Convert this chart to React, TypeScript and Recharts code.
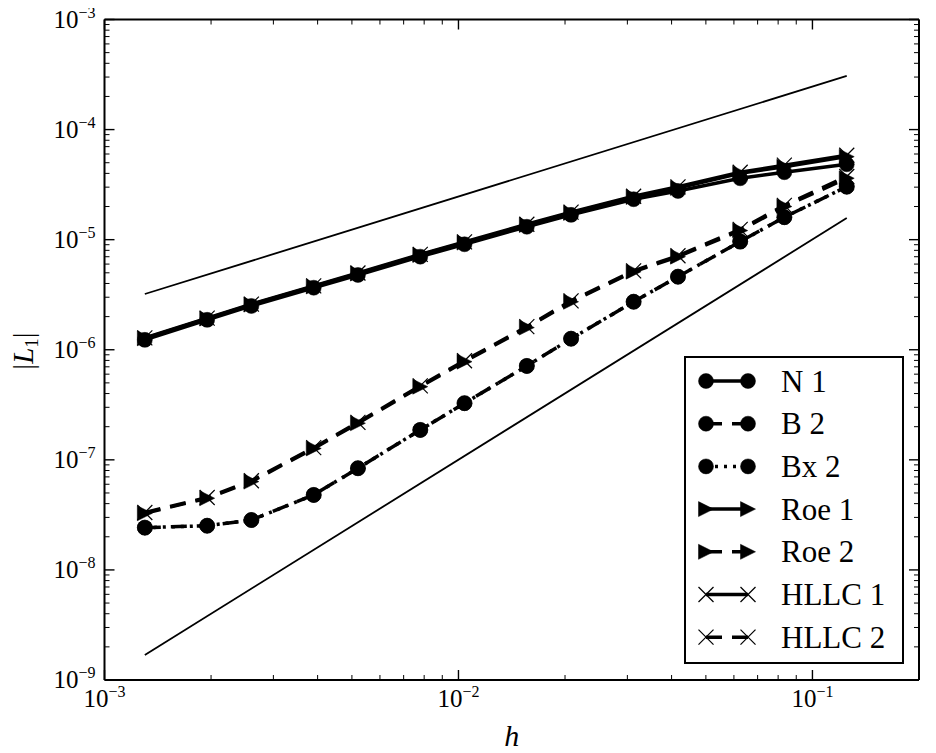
import React from 'react';
import { LineChart, Line, XAxis, YAxis, Legend } from 'recharts';

// grid spacing h (x values)
const H = [0.0013, 0.00195, 0.0026, 0.0039, 0.0052, 0.0078, 0.0104, 0.0156, 0.0208, 0.03125, 0.0417, 0.0625, 0.0833, 0.125];

// |L1| errors per scheme
const N1 = [1.23e-6, 1.87e-6, 2.5e-6, 3.66e-6, 4.78e-6, 7.01e-6, 9.08e-6, 1.31e-5, 1.68e-5, 2.33e-5, 2.77e-5, 3.61e-5, 4.1e-5, 4.84e-5];
const B2 = [2.42e-8, 2.52e-8, 2.84e-8, 4.8e-8, 8.39e-8, 1.87e-7, 3.27e-7, 7.13e-7, 1.26e-6, 2.73e-6, 4.61e-6, 9.6e-6, 1.6e-5, 3.03e-5];
const BX2 = [2.42e-8, 2.52e-8, 2.84e-8, 4.8e-8, 8.39e-8, 1.87e-7, 3.27e-7, 7.13e-7, 1.26e-6, 2.73e-6, 4.61e-6, 9.6e-6, 1.6e-5, 3.03e-5];
const ROE1 = [1.27e-6, 1.92e-6, 2.57e-6, 3.76e-6, 4.92e-6, 7.25e-6, 9.4e-6, 1.36e-5, 1.75e-5, 2.44e-5, 2.95e-5, 4.0e-5, 4.6e-5, 5.68e-5];
const ROE2 = [3.27e-8, 4.48e-8, 6.34e-8, 1.27e-7, 2.15e-7, 4.62e-7, 7.8e-7, 1.59e-6, 2.73e-6, 5.12e-6, 7.01e-6, 1.21e-5, 2.0e-5, 3.61e-5];
const HLLC1 = [1.28e-6, 1.94e-6, 2.6e-6, 3.8e-6, 4.98e-6, 7.35e-6, 9.55e-6, 1.38e-5, 1.78e-5, 2.48e-5, 3.02e-5, 4.1e-5, 4.75e-5, 5.85e-5];
const HLLC2 = [3.32e-8, 4.55e-8, 6.45e-8, 1.29e-7, 2.19e-7, 4.7e-7, 7.95e-7, 1.62e-6, 2.78e-6, 5.2e-6, 7.15e-6, 1.24e-5, 2.05e-5, 3.75e-5];

// reference slope lines (end points)
const REF1_X = [0.0013, 0.125];
const REF1_Y = [3.21e-6, 3.07e-4];
const REF2_X = [0.0013, 0.125];
const REF2_Y = [1.69e-9, 1.57e-5];

// axis ticks
const X_MAJOR = [0.001, 0.01, 0.1];
const Y_MAJOR = [1e-9, 1e-8, 1e-7, 1e-6, 1e-5, 1e-4, 1e-3];
const X_DOMAIN: [number, number] = [0.001, 0.2];
const Y_DOMAIN: [number, number] = [1e-9, 1e-3];

const FONT = "'Liberation Serif', 'DejaVu Serif', serif";

const withMinors = (majors: number[], max: number) => {
  const out: number[] = [];
  majors.forEach((m) => {
    for (let k = 1; k < 10; k++) {
      const v = m * k;
      if (v <= max * 1.000001) out.push(v);
    }
  });
  return out;
};
const X_TICKS = withMinors(X_MAJOR, X_DOMAIN[1]);
const Y_TICKS = withMinors(Y_MAJOR, Y_DOMAIN[1]);

const pts = (xs: number[], ys: number[]) => xs.map((x, i) => ({ x, y: ys[i] }));

const isMajor = (v: number) => {
  const lg = Math.log10(v);
  return Math.abs(lg - Math.round(lg)) < 1e-6;
};
const expStr = (v: number) => {
  const e = Math.round(Math.log10(v));
  return e < 0 ? '\u2212' + Math.abs(e) : String(e);
};

type Side = 'bottom' | 'left' | 'top' | 'right';
const makeTick = (side: Side, label: boolean) => (props: any) => {
  const { x, y, payload } = props;
  const v = payload.value;
  const major = isMajor(v);
  const len = major ? 10 : 5;
  let x2 = x;
  let y2 = y;
  if (side === 'bottom') y2 = y - len;
  if (side === 'top') y2 = y + len;
  if (side === 'left') x2 = x + len;
  if (side === 'right') x2 = x - len;
  let text: React.ReactNode = null;
  if (label && major) {
    if (side === 'bottom') {
      text = (
        <text x={x} y={y + 27} textAnchor="middle" fontFamily={FONT} fontSize={25} fill="#000">
          10<tspan dy={-10} fontSize={16}>{expStr(v)}</tspan>
        </text>
      );
    } else if (side === 'left') {
      text = (
        <text x={x - 9} y={y + 8} textAnchor="end" fontFamily={FONT} fontSize={25} fill="#000">
          10<tspan dy={-10} fontSize={16}>{expStr(v)}</tspan>
        </text>
      );
    }
  }
  return (
    <g>
      <line x1={x} y1={y} x2={x2} y2={y2} stroke="#000" strokeWidth={major ? 1.4 : 1} />
      {text}
    </g>
  );
};

const MS = 7.5;
const CircleDot = (p: any) => {
  if (p.cx == null || p.cy == null) return <g key={p.key} />;
  return <circle key={p.key} cx={p.cx} cy={p.cy} r={MS} fill="#000" stroke="#000" strokeWidth={0.5} />;
};
const TriDot = (p: any) => {
  if (p.cx == null || p.cy == null) return <g key={p.key} />;
  const { cx, cy } = p;
  return (
    <polygon
      key={p.key}
      points={`${cx + MS},${cy} ${cx - MS},${cy - MS} ${cx - MS},${cy + MS}`}
      fill="#000"
      stroke="#000"
      strokeWidth={0.5}
    />
  );
};
const CrossDot = (p: any) => {
  if (p.cx == null || p.cy == null) return <g key={p.key} />;
  const { cx, cy } = p;
  return (
    <g key={p.key}>
      <line x1={cx - MS} y1={cy - MS} x2={cx + MS} y2={cy + MS} stroke="#000" strokeWidth={1.2} />
      <line x1={cx - MS} y1={cy + MS} x2={cx + MS} y2={cy - MS} stroke="#000" strokeWidth={1.2} />
    </g>
  );
};

const DASH = '16 10';
const DOT = '3 6';

const SERIES = [
  { name: 'N 1', vals: N1, dash: undefined as string | undefined, marker: 'circle' },
  { name: 'B 2', vals: B2, dash: DASH, marker: 'circle' },
  { name: 'Bx 2', vals: BX2, dash: DOT, marker: 'circle' },
  { name: 'Roe 1', vals: ROE1, dash: undefined, marker: 'tri' },
  { name: 'Roe 2', vals: ROE2, dash: DASH, marker: 'tri' },
  { name: 'HLLC 1', vals: HLLC1, dash: undefined, marker: 'cross' },
  { name: 'HLLC 2', vals: HLLC2, dash: DASH, marker: 'cross' },
];

const markerFor = (m: string) => (m === 'circle' ? CircleDot : m === 'tri' ? TriDot : CrossDot);

const LegendBox = () => {
  const rowY = (i: number) => 25 + i * 42.7;
  return (
    <svg width={220} height={308} style={{ display: 'block' }}>
      <rect x={1} y={1} width={218} height={306} fill="#fff" stroke="#000" strokeWidth={2} />
      {SERIES.map((s, i) => {
        const y = rowY(i);
        const M = markerFor(s.marker);
        return (
          <g key={s.name}>
            <line x1={22} y1={y} x2={64} y2={y} stroke="#000" strokeWidth={3.5} strokeDasharray={s.dash} />
            {M({ cx: 22, cy: y, key: 'a' })}
            {M({ cx: 64, cy: y, key: 'b' })}
            <text x={97} y={y + 10.5} fontFamily={FONT} fontSize={31} fill="#000">
              {s.name}
            </text>
          </g>
        );
      })}
    </svg>
  );
};

const XLabel = (props: any) => {
  const vb = props.viewBox || {};
  const cx = (vb.x || 0) + (vb.width || 0) / 2;
  return (
    <text x={cx} y={746} textAnchor="middle" fontFamily={FONT} fontStyle="italic" fontSize={30} fill="#000">
      h
    </text>
  );
};

const YLabel = () => (
  <g transform="translate(25,351) rotate(-90)">
    <text x={0} y={0} textAnchor="middle" fontFamily={FONT} fontSize={29} fill="#000">
      |<tspan fontStyle="italic">L</tspan>
      <tspan dy={5} fontSize={19}>1</tspan>
      <tspan dy={-5}>|</tspan>
    </text>
  </g>
);

export default function App() {
  return (
    <div style={{ width: 928, height: 753, marginTop: -8, background: '#fff' }}>
      <LineChart width={928} height={753} margin={{ top: 18.5, right: 9, bottom: 0, left: 0 }}>
        <XAxis
          xAxisId="b"
          dataKey="x"
          type="number"
          scale="log"
          domain={X_DOMAIN}
          allowDataOverflow
          ticks={X_TICKS}
          interval={0}
          tickSize={0}
          tickMargin={0}
          tickLine={false}
          axisLine={{ stroke: '#000', strokeWidth: 2 }}
          tick={makeTick('bottom', true)}
          height={73}
          orientation="bottom"
          label={<XLabel />}
        />
        <XAxis
          xAxisId="t"
          dataKey="x"
          type="number"
          scale="log"
          domain={X_DOMAIN}
          allowDataOverflow
          ticks={X_TICKS}
          interval={0}
          tickSize={0}
          tickMargin={0}
          tickLine={false}
          axisLine={{ stroke: '#000', strokeWidth: 2 }}
          tick={makeTick('top', false)}
          height={1}
          orientation="top"
        />
        <YAxis
          yAxisId="l"
          type="number"
          scale="log"
          domain={Y_DOMAIN}
          allowDataOverflow
          ticks={Y_TICKS}
          interval={0}
          tickSize={0}
          tickMargin={0}
          tickLine={false}
          axisLine={{ stroke: '#000', strokeWidth: 2 }}
          tick={makeTick('left', true)}
          width={96.5}
          orientation="left"
          label={<YLabel />}
        />
        <YAxis
          yAxisId="r"
          type="number"
          scale="log"
          domain={Y_DOMAIN}
          allowDataOverflow
          ticks={Y_TICKS}
          interval={0}
          tickSize={0}
          tickMargin={0}
          tickLine={false}
          axisLine={{ stroke: '#000', strokeWidth: 2 }}
          tick={makeTick('right', false)}
          width={8}
          orientation="right"
        />
        <Line
          xAxisId="b"
          yAxisId="l"
          data={pts(REF1_X, REF1_Y)}
          dataKey="y"
          stroke="#000"
          strokeWidth={1.8}
          dot={false}
          activeDot={false}
          isAnimationActive={false}
          legendType="none"
        />
        <Line
          xAxisId="b"
          yAxisId="l"
          data={pts(REF2_X, REF2_Y)}
          dataKey="y"
          stroke="#000"
          strokeWidth={1.8}
          dot={false}
          activeDot={false}
          isAnimationActive={false}
          legendType="none"
        />
        {SERIES.map((s) => {
          const M = markerFor(s.marker);
          return (
            <Line
              key={s.name}
              name={s.name}
              xAxisId="b"
              yAxisId="l"
              data={pts(H, s.vals)}
              dataKey="y"
              stroke="#000"
              strokeWidth={3.5}
              strokeDasharray={s.dash}
              dot={(p: any) => M(p)}
              activeDot={false}
              isAnimationActive={false}
            />
          );
        })}
        <Legend
          layout="vertical"
          align="center"
          verticalAlign="middle"
          wrapperStyle={{ left: 676, top: 355.7, width: 220, height: 308 }}
          content={() => <LegendBox />}
        />
      </LineChart>
    </div>
  );
}
